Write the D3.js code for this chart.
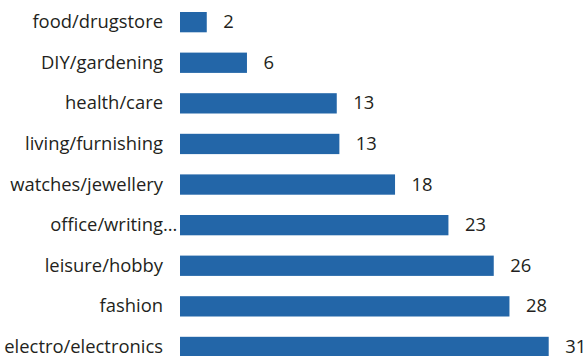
<!DOCTYPE html>
<html>
<head>
<meta charset="utf-8">
<script src="https://cdn.jsdelivr.net/npm/d3@7"></script>
<style>
  html, body { margin: 0; padding: 0; background: #fff; }
  svg { display: block; }
  text { font-family: "Open Sans", "Noto Sans", sans-serif; fill: #231f20; }
</style>
</head>
<body>
<svg id="chart" width="584" height="356"></svg>
<script>
const categories = ["food/drugstore", "DIY/gardening", "health/care", "living/furnishing",
  "watches/jewellery", "office/writing…", "leisure/hobby", "fashion", "electro/electronics"];
const values = [2.25, 5.63, 13.18, 13.4, 18.08, 22.57, 26.38, 27.7, 31.0];

const svg = d3.select("#chart");
const x = d3.scaleLinear().domain([0, 31]).range([180, 548.7]);
const y = d3.scaleBand().domain(categories).range([1.85, 367.25])
  .paddingInner(0.5).paddingOuter(0.25);
const fmt = d3.format(".0f");
const fs = 18.4;

const data = categories.map((c, i) => ({ c, v: values[i] }));

svg.selectAll("rect.bar").data(data).join("rect")
  .attr("class", "bar")
  .attr("x", x(0))
  .attr("y", d => y(d.c))
  .attr("width", d => x(d.v) - x(0))
  .attr("height", y.bandwidth())
  .attr("fill", "#2366a8");

svg.selectAll("text.cat").data(data).join("text")
  .attr("class", "cat")
  .attr("x", 163)
  .attr("y", d => y(d.c) + y.bandwidth() / 2)
  .attr("dy", "0.33em")
  .attr("text-anchor", "end")
  .attr("font-size", fs)
  .text(d => d.c.replace("…", ""));

// ellipsis of truncated labels overflows past the label column
svg.selectAll("text.ell").data(data.filter(d => d.c.endsWith("…"))).join("text")
  .attr("class", "ell")
  .attr("x", 163)
  .attr("y", d => y(d.c) + y.bandwidth() / 2)
  .attr("dy", "0.33em")
  .attr("font-size", fs)
  .text("…");

svg.selectAll("text.val").data(data).join("text")
  .attr("class", "val")
  .attr("x", d => x(d.v) + 16.5)
  .attr("y", d => y(d.c) + y.bandwidth() / 2)
  .attr("dy", "0.33em")
  .attr("font-size", fs)
  .text(d => fmt(d.v));
</script>
</body>
</html>
